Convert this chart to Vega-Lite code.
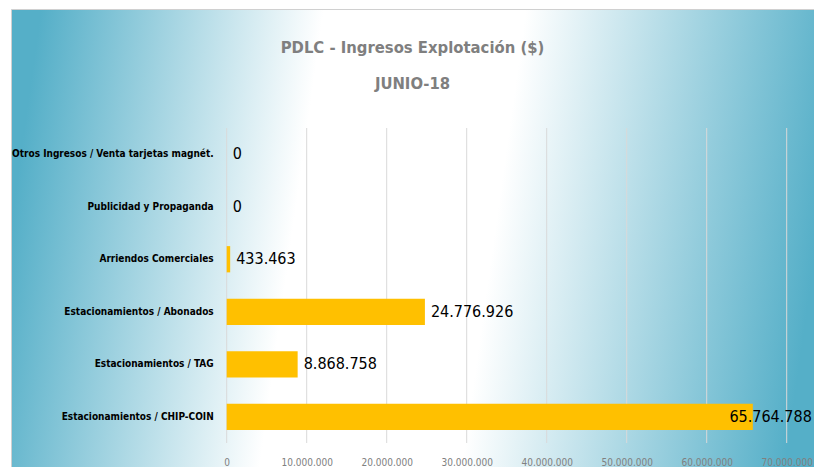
{
  "$schema": "https://vega.github.io/schema/vega-lite/v6.json",
  "width": 803,
  "height": 458,
  "autosize": {"type": "none"},
  "padding": {"left": 11, "top": 9, "right": 0, "bottom": 0},
  "background": "#ffffff",
  "config": {
    "locale": {"number": {"decimal": ",", "thousands": ".", "grouping": [3], "currency": ["$", ""]}},
    "font": "DejaVu Sans Condensed, DejaVu Sans, sans-serif"
  },
  "view": {
    "stroke": "#d0d0d0",
    "strokeWidth": 1,
    "fill": {
      "gradient": "linear",
      "x1": 0, "y1": 0.46, "x2": 1, "y2": 0.54,
      "stops": [
        {"offset": 0, "color": "#55afc8"},
        {"offset": 0.35, "color": "#ffffff"},
        {"offset": 0.6, "color": "#ffffff"},
        {"offset": 1, "color": "#55afc8"}
      ]
    }
  },
  "title": {
    "text": ["PDLC - Ingresos Explotación ($)", "JUNIO-18"],
    "anchor": "middle",
    "frame": "group",
    "fontSize": 16.5,
    "fontWeight": "bold",
    "color": "#7f7f7f",
    "font": "DejaVu Sans Condensed, DejaVu Sans, sans-serif",
    "lineHeight": 36,
    "baseline": "top",
    "offset": -83
  },
  "resolve": {"scale": {"y": "independent"}},
  "layer": [
    {
      "data": {"values": [
        {"tick": 0}, {"tick": 10000000}, {"tick": 20000000}, {"tick": 30000000},
        {"tick": 40000000}, {"tick": 50000000}, {"tick": 60000000}, {"tick": 70000000}
      ]},
      "mark": {"type": "rule", "color": "#d9d9d9", "strokeWidth": 1},
      "encoding": {
        "x": {
          "field": "tick",
          "type": "quantitative",
          "scale": {"domain": [-26962500, 73412500], "nice": false, "zero": false},
          "axis": {
            "values": [0, 10000000, 20000000, 30000000, 40000000, 50000000, 60000000, 70000000],
            "format": ",d",
            "grid": false,
            "domain": false,
            "ticks": false,
            "tickSize": 0,
            "labelPadding": 14,
            "offset": -24,
            "labelFlush": false,
            "labelFontSize": 10,
            "labelColor": "#808080",
            "title": null
          }
        },
        "y": {"datum": 0, "type": "quantitative", "scale": {"domain": [0, 1], "range": [119, 434]}, "axis": null},
        "y2": {"datum": 1}
      }
    },
    {
      "data": {"values": [
        {"cat": "Otros Ingresos / Venta tarjetas magnét.", "value": 0},
        {"cat": "Publicidad y Propaganda", "value": 0},
        {"cat": "Arriendos Comerciales", "value": 433463},
        {"cat": "Estacionamientos / Abonados", "value": 24776926},
        {"cat": "Estacionamientos / TAG", "value": 8868758},
        {"cat": "Estacionamientos / CHIP-COIN", "value": 65764788}
      ]},
      "encoding": {
        "y": {
          "field": "cat",
          "type": "nominal",
          "sort": null,
          "scale": {"range": [119, 434], "paddingInner": 0.5, "paddingOuter": 0.25},
          "axis": null
        }
      },
      "layer": [
        {
          "mark": {"type": "bar", "color": "#FFC000"},
          "encoding": {"x": {"field": "value", "type": "quantitative"}}
        },
        {
          "mark": {"type": "text", "align": "right", "baseline": "middle", "dx": -13, "fontSize": 10, "fontWeight": "bold", "color": "#000000"},
          "encoding": {"x": {"datum": 0}, "text": {"field": "cat"}}
        },
        {
          "transform": [{"filter": "datum.value < 60000000"}],
          "mark": {"type": "text", "align": "left", "baseline": "middle", "dx": 6, "fontSize": 16, "color": "#000000"},
          "encoding": {"x": {"field": "value", "type": "quantitative"}, "text": {"field": "value", "format": ",d"}}
        },
        {
          "transform": [{"filter": "datum.value >= 60000000"}],
          "mark": {"type": "text", "align": "right", "baseline": "middle", "dx": 59, "fontSize": 16, "color": "#000000"},
          "encoding": {"x": {"field": "value", "type": "quantitative"}, "text": {"field": "value", "format": ",d"}}
        }
      ]
    }
  ]
}
